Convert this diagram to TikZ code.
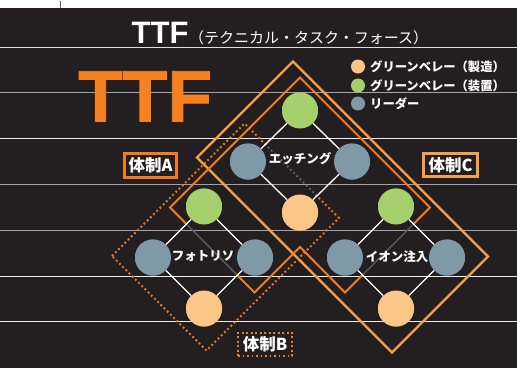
\documentclass[tikz,border=0pt]{standalone}
\usepackage{fontspec}
\setmainfont{Liberation Sans}
\newfontfamily\jp{Noto Sans CJK JP}
\newfontfamily\heavyfont[FakeBold=1.2]{Liberation Sans Bold}
\usetikzlibrary{calc}
\definecolor{bg}{HTML}{231F20}
\definecolor{ttforange}{HTML}{F68121}
\definecolor{orA}{HTML}{F47B20}
\definecolor{orC}{HTML}{F7A04A}
\definecolor{cgreen}{HTML}{A6D06D}
\definecolor{cpeach}{HTML}{FCC688}
\definecolor{cblue}{HTML}{7F99A6}
\definecolor{lineW}{HTML}{EDEDED}
\definecolor{lineG}{HTML}{A4A4A4}
\definecolor{innerG}{HTML}{5E5E5E}
\newcommand\myhlines{%
  \draw[lineW!85!gray,hl] (0,47) -- (517,47);
  \draw[lineG,hl] (0,92) -- (517,92);
  \draw[lineW,hl] (0,138) -- (517,138);
  \draw[lineG,hl] (0,184) -- (517,184);
  \draw[lineG,hl,line width=1.6pt] (0,230) -- (517,230);
  \draw[lineW,hl] (0,276) -- (517,276);
  \draw[lineW,hl] (0,321) -- (517,321);}
\newcommand\shapeApath{(aT) -- (aR) -- (aBR) -- (aN) -- (aBL) -- (aL) -- cycle}
\newcommand\shapeBpath{(bL) -- (bT) -- (bR) -- (bB) -- cycle}
\begin{document}
\begin{tikzpicture}[x=1pt,y=-1pt,line join=miter,
  dot/.style={circle,minimum size=36pt,inner sep=0pt},
  gr/.style={dot,fill=cgreen}, pe/.style={dot,fill=cpeach}, bl/.style={dot,fill=cblue},
  ldot/.style={circle,minimum size=14pt,inner sep=0pt},
  edge/.style={white,line width=1.3pt},
  lab/.style={text=white,font=\jp\bfseries\fontsize{12.5}{12.5}\selectfont,inner sep=0.5pt},
  leg/.style={text=white,font=\jp\bfseries\fontsize{12.3}{12.3}\selectfont,inner sep=0pt,anchor=west},
  tbox/.style={text=white,font=\jp\bfseries\fontsize{16.5}{16.5}\selectfont,inner sep=0pt,minimum height=23.5pt},
  hl/.style={line width=1.2pt},
  bdots/.style={dash pattern=on 1.8pt off 2.7pt,line width=1.8pt}
]
\fill[bg] (0,0) rectangle (517,367);
\fill[white] (0,0) rectangle (517,7);
\draw[gray!80!black,line width=1pt] (60,0) -- (60,7);
\useasboundingbox (0,0) rectangle (517,367);

\myhlines

% titles
\node[text=ttforange,font=\heavyfont\fontsize{73}{73}\selectfont,anchor=base west,inner sep=0pt] (bigttf) at (78,121) {TTF};
\node[text=white,font=\bfseries\fontsize{31}{31}\selectfont,anchor=base west,inner sep=0pt] (t1) at (131.5,43) {TTF};
\node[text=white,font=\jp\fontsize{15}{15}\selectfont,anchor=base west,inner sep=0pt] (t2) at (189,43) {（テクニカル・タスク・フォース）};

% coordinates of outlines
\coordinate (cT) at (293,61);
\coordinate (cR) at (488,256);
\coordinate (cB) at (392,352);
\coordinate (cL) at (197,157);
\coordinate (aT) at (300,77);
\coordinate (aR) at (430,207);
\coordinate (aBR) at (345,292);
\coordinate (aN) at (300,246.5);
\coordinate (aBL) at (254.5,292);
\coordinate (aL) at (170,207);
\coordinate (bL) at (112,255.5);
\coordinate (bT) at (244.5,123);
\coordinate (bR) at (339,217.5);
\coordinate (bB) at (206.5,350);

\draw[orC,line width=2.4pt] (cT) -- (cR) -- (cB) -- (cL) -- cycle;
\draw[orA,line width=2pt] \shapeApath;
\draw[orA,bdots] \shapeBpath;

% group label boxes
\node[tbox,draw=orA,line width=2.6pt,minimum width=52.5pt] (boxA) at (150.5,165) {体制A};
\node[tbox,draw=orC,line width=2.6pt,minimum width=54.5pt,minimum height=22.5pt] (boxC) at (450.5,164.5) {体制C};
\node[tbox,draw=orA,bdots,minimum width=54pt] (boxB) at (265,344) {体制B};

% circles
\node[gr] (eT) at (300,110) {};
\node[bl] (eL) at (248,161) {};
\node[bl] (eR) at (352,161) {};
\node[pe] (eB) at (300,212) {};
\node[gr] (pT) at (204,206) {};
\node[bl] (pL) at (153,257) {};
\node[bl] (pR) at (255,257) {};
\node[pe] (pB) at (204,308) {};
\node[gr] (iT) at (396,206) {};
\node[bl] (iL) at (345,257) {};
\node[bl] (iR) at (447,257) {};
\node[pe] (iB) at (396,308) {};

% diamond interiors: outlines seen through in gray
\foreach \d in {e,p,i}{
  \begin{scope}
    \clip (\d T.center) -- (\d R.center) -- (\d B.center) -- (\d L.center) -- cycle;
    \fill[bg] (0,0) rectangle (517,367);
    \myhlines
    \draw[innerG,line width=1.4pt] \shapeApath;
    \draw[gray!75!black,bdots] \shapeBpath;
  \end{scope}
}

% edges
\foreach \d in {e,p,i}{
  \draw[edge] (\d T) -- (\d L);
  \draw[edge] (\d T) -- (\d R);
  \draw[edge] (\d L) -- (\d B);
  \draw[edge] (\d R) -- (\d B);
}
% circles on top of the clipped overlays
\fill[cgreen] (eT.center) circle (18pt) (pT.center) circle (18pt) (iT.center) circle (18pt);
\fill[cblue] (eL.center) circle (18pt) (eR.center) circle (18pt) (pL.center) circle (18pt) (pR.center) circle (18pt) (iL.center) circle (18pt) (iR.center) circle (18pt);
\fill[cpeach] (eB.center) circle (18pt) (pB.center) circle (18pt) (iB.center) circle (18pt);

% diamond labels
\node[lab] (eLab) at (300,158) {エッチング};
\node[lab] (pLab) at (203,256) {フォトリソ};
\node[lab] (iLab) at (397,256) {イオン注入};

% legend
\node[ldot,fill=cpeach] (lg1) at (358,66) {};
\node[ldot,fill=cgreen] (lg2) at (358,85) {};
\node[ldot,fill=cblue] (lg3) at (358,103) {};
\node[leg] (lt1) at (370,66) {グリーンベレー（製造）};
\node[leg] (lt2) at (370,85) {グリーンベレー（装置）};
\node[leg] (lt3) at (370,103) {リーダー};
\end{tikzpicture}
\end{document}
